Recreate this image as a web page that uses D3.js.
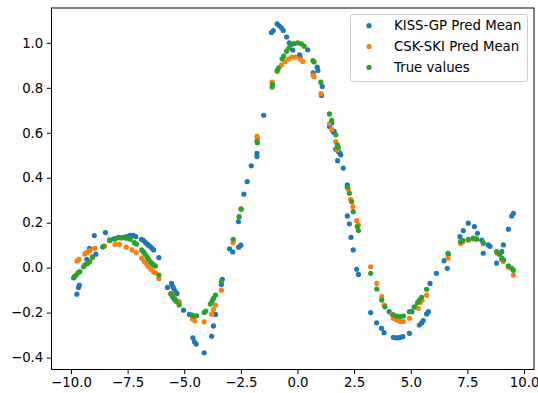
<!DOCTYPE html>
<html><head><meta charset="utf-8">
<script src="https://cdn.jsdelivr.net/npm/d3@7"></script>
<style>body{margin:0;background:#fff}svg{display:block}text{font-family:"DejaVu Sans",sans-serif}</style>
</head><body>
<svg id="c" width="538" height="393"></svg>
<script>
const kissPoints = [[-9.88,-0.045],[-9.74,-0.118],[-9.67,-0.088],[-9.63,-0.078],[-9.30,0.037],[-9.18,0.086],[-9.05,0.048],[-8.97,0.143],[-8.90,0.060],[-8.60,0.092],[-8.48,0.156],[-8.29,0.124],[-8.10,0.128],[-7.91,0.135],[-7.75,0.134],[-7.59,0.137],[-7.45,0.140],[-7.38,0.144],[-7.26,0.144],[-7.14,0.138],[-6.89,0.126],[-6.80,0.121],[-6.72,0.113],[-6.65,0.106],[-6.58,0.100],[-6.50,0.094],[-6.42,0.086],[-6.35,0.079],[-6.12,0.045],
[-5.74,-0.088],[-5.56,-0.070],[-5.50,-0.085],[-5.45,-0.095],[-5.38,-0.109],[-5.32,-0.115],[-5.23,-0.152],[-5.03,-0.189],[-4.77,-0.208],[-4.62,-0.312],[-4.55,-0.330],[-4.47,-0.340],[-4.12,-0.379],[-3.79,-0.305],[-3.71,-0.259],[-3.62,-0.208],[-3.36,-0.075],[-3.32,-0.052],
[-3.00,0.084],[-2.86,0.070],[-2.61,0.205],[-2.60,0.091],[-2.50,0.100],[-2.37,0.327],[-2.22,0.383],[-2.04,0.453],[-1.79,0.494],[-1.79,0.509],[-1.49,0.678],[-1.15,1.046],[-1.07,1.055],[-0.90,1.085],[-0.81,1.076],[-0.70,1.066],[-0.63,1.055],[-0.48,1.026],[-0.36,1.000],[-0.21,0.968],[0.09,0.947],[0.12,0.937],[0.45,0.969],[0.69,0.866],[0.87,0.892],[0.90,0.877],[1.09,0.806],[1.06,0.766],
[1.41,0.628],[1.51,0.643],[1.58,0.603],[1.62,0.606],[1.69,0.527],[1.77,0.476],[1.80,0.517],[1.88,0.509],[1.91,0.502],[2.02,0.443],[2.20,0.368],[2.20,0.230],[2.29,0.195],[2.36,0.135],[2.46,0.079],[2.61,-0.007],[2.69,-0.030],
[3.23,-0.200],[3.49,-0.245],[3.71,-0.270],[3.82,-0.289],[4.05,-0.196],[4.23,-0.310],[4.35,-0.312],[4.45,-0.312],[4.54,-0.310],[4.65,-0.307],[4.94,-0.292],[5.05,-0.196],[5.19,-0.174],[5.38,-0.255],[5.48,-0.246],[5.55,-0.235],[5.70,-0.206],[5.78,-0.196],[5.85,-0.070],[6.13,-0.025],[6.47,0.031],[6.61,-0.003],[6.66,0.060],
[7.17,0.138],[7.32,0.165],[7.54,0.198],[7.81,0.183],[7.94,0.153],[8.13,0.123],[8.20,0.064],[8.42,0.101],[8.50,0.095],[8.79,0.020],[9.02,0.071],[9.09,0.101],[9.31,0.171],[9.46,0.230],[9.53,0.242]];

const cskPoints = [[-9.73,0.030],[-9.65,0.037],[-9.39,0.061],[-9.29,0.068],[-9.17,0.076],[-8.95,0.086],[-8.52,0.097],[-8.06,0.104],[-7.86,0.104],[-7.56,0.091],[-7.30,0.079],[-7.12,0.067],[-6.88,0.042],[-6.77,0.027],[-6.65,0.016],[-6.58,0.004],[-6.47,-0.007],[-6.36,-0.018],[-6.27,-0.022],[-6.12,-0.048],
[-5.60,-0.115],[-5.53,-0.120],[-5.41,-0.137],[-5.30,-0.150],[-5.22,-0.158],[-4.64,-0.228],[-4.53,-0.236],[-4.12,-0.241],[-3.79,-0.207],[-3.71,-0.186],[-3.62,-0.166],[-3.36,-0.100],
[-2.84,0.111],[-2.58,0.225],[-2.49,0.262],[-1.79,0.584],[-1.77,0.575],[-1.12,0.825],[-0.90,0.873],[-0.70,0.902],[-0.55,0.917],[-0.40,0.928],[-0.25,0.937],[-0.10,0.937],[0.12,0.928],[0.24,0.917],[0.69,0.856],[0.73,0.850],[1.04,0.774],
[1.41,0.640],[1.51,0.615],[1.69,0.561],[1.76,0.524],[2.24,0.350],[2.34,0.304],[2.44,0.272],[2.61,0.209],[2.69,0.190],
[3.23,0.004],[3.50,-0.070],[3.72,-0.129],[3.83,-0.166],[4.17,-0.207],[4.23,-0.225],[4.38,-0.233],[4.53,-0.240],[4.68,-0.240],[4.94,-0.225],[5.33,-0.181],[5.42,-0.155],[5.50,-0.145],[5.70,-0.122],
[6.64,0.042],[7.20,0.108],[7.30,0.115],[7.54,0.122],[7.76,0.128],[7.90,0.126],[8.20,0.106],[8.82,0.064],[9.02,0.035],[9.08,0.027],[9.31,0.002],[9.53,-0.033]];

const truePoints = [[-9.85,-0.040],[-9.77,-0.033],[-9.68,-0.022],[-9.61,-0.018],[-9.45,0.004],[-9.39,0.012],[-9.27,0.019],[-9.17,0.027],[-9.05,0.046],[-8.56,0.094],[-8.29,0.120],[-8.03,0.129],[-7.80,0.132],[-7.56,0.131],[-7.38,0.126],[-7.20,0.111],[-7.11,0.105],[-6.88,0.079],[-6.80,0.070],[-6.73,0.061],[-6.65,0.049],[-6.58,0.039],[-6.50,0.027],[-6.42,0.019],[-6.35,0.012],[-6.27,0.007],[-6.12,-0.033],
[-5.59,-0.117],[-5.52,-0.129],[-5.44,-0.140],[-5.36,-0.149],[-5.23,-0.166],[-4.65,-0.211],[-4.56,-0.215],[-4.45,-0.214],[-4.12,-0.199],[-4.05,-0.193],[-3.85,-0.162],[-3.77,-0.149],[-3.71,-0.137],[-3.62,-0.122],[-3.36,-0.062],
[-2.84,0.126],[-2.58,0.227],[-2.49,0.260],[-1.79,0.562],[-1.77,0.556],[-1.12,0.804],[-1.10,0.815],[-0.89,0.878],[-0.83,0.889],[-0.68,0.929],[-0.61,0.941],[-0.48,0.963],[-0.38,0.978],[-0.26,0.993],[-0.14,0.997],[0.02,1.000],[0.17,0.996],[0.29,0.985],[0.68,0.921],[0.73,0.915],[1.03,0.825],
[1.41,0.684],[1.51,0.655],[1.69,0.591],[1.76,0.546],[1.80,0.535],[2.20,0.358],[2.29,0.331],[2.39,0.294],[2.46,0.249],[2.64,0.183],[2.69,0.165],
[3.23,-0.025],[3.50,-0.095],[3.72,-0.144],[3.86,-0.174],[4.23,-0.210],[4.38,-0.215],[4.53,-0.218],[4.68,-0.215],[4.94,-0.196],[5.15,-0.175],[5.30,-0.155],[5.38,-0.144],[5.48,-0.132],[5.70,-0.096],
[6.64,0.064],[7.20,0.116],[7.30,0.122],[7.54,0.126],[7.76,0.131],[7.90,0.128],[8.20,0.111],[8.79,0.071],[8.92,0.060],[9.02,0.042],[9.10,0.035],[9.31,0.008],[9.46,-0.003],[9.53,-0.012]];

const seriesNames = ["KISS-GP Pred Mean", "CSK-SKI Pred Mean", "True values"];
const seriesColors = ["#1f77b4", "#ff7f0e", "#2ca02c"];
const xTicks = [-10, -7.5, -5, -2.5, 0, 2.5, 5, 7.5, 10];
const yTicks = [-0.4, -0.2, 0.0, 0.2, 0.4, 0.6, 0.8, 1.0];

const svg = d3.select("#c");
const L = 51.5, R = 534, T = 8, B = 369.5;
const x = d3.scaleLinear().domain([-10.86, 10.44]).range([L, R]);
const y = d3.scaleLinear().domain([-0.453, 1.155]).range([B, T]);
const fmt = v => d3.format(".1f")(v).replace("-", "\u2212");
const FS = "13.3px";

const xa = svg.append("g").attr("transform", `translate(0,${B})`)
  .call(d3.axisBottom(x).tickValues(xTicks).tickFormat(fmt).tickSize(4.7).tickPadding(3.5));
const ya = svg.append("g").attr("transform", `translate(${L},0)`)
  .call(d3.axisLeft(y).tickValues(yTicks).tickFormat(fmt).tickSize(4.7).tickPadding(3.5));
[xa, ya].forEach(a => {
  a.select(".domain").remove();
  a.selectAll("line").attr("stroke", "#000").attr("stroke-width", 1);
  a.selectAll("text").attr("fill", "#000").style("font-size", FS).style("font-family", '"DejaVu Sans"');
});

const all = [kissPoints, cskPoints, truePoints];
all.forEach((pts, i) => {
  svg.append("g").selectAll("circle").data(pts).join("circle")
    .attr("cx", d => x(d[0])).attr("cy", d => y(d[1])).attr("r", 2.6)
    .attr("fill", seriesColors[i]);
});

svg.append("rect").attr("x", L).attr("y", T).attr("width", R - L).attr("height", B - T)
  .attr("fill", "none").attr("stroke", "#000").attr("stroke-width", 1);

const lg = svg.append("g");
lg.append("rect").attr("x", 350.5).attr("y", 14.5).attr("width", 177).attr("height", 67)
  .attr("rx", 3).attr("fill", "#fff").attr("fill-opacity", 0.8).attr("stroke", "#cccccc").attr("stroke-width", 1);
seriesNames.forEach((n, i) => {
  const cy = 25.7 + i * 20.8;
  lg.append("circle").attr("cx", 369).attr("cy", cy).attr("r", 2.6).attr("fill", seriesColors[i]);
  lg.append("text").attr("x", 394).attr("y", cy).attr("dy", "0.36em").style("font-size", FS).attr("fill", "#000").text(n);
});
</script>
</body></html>
